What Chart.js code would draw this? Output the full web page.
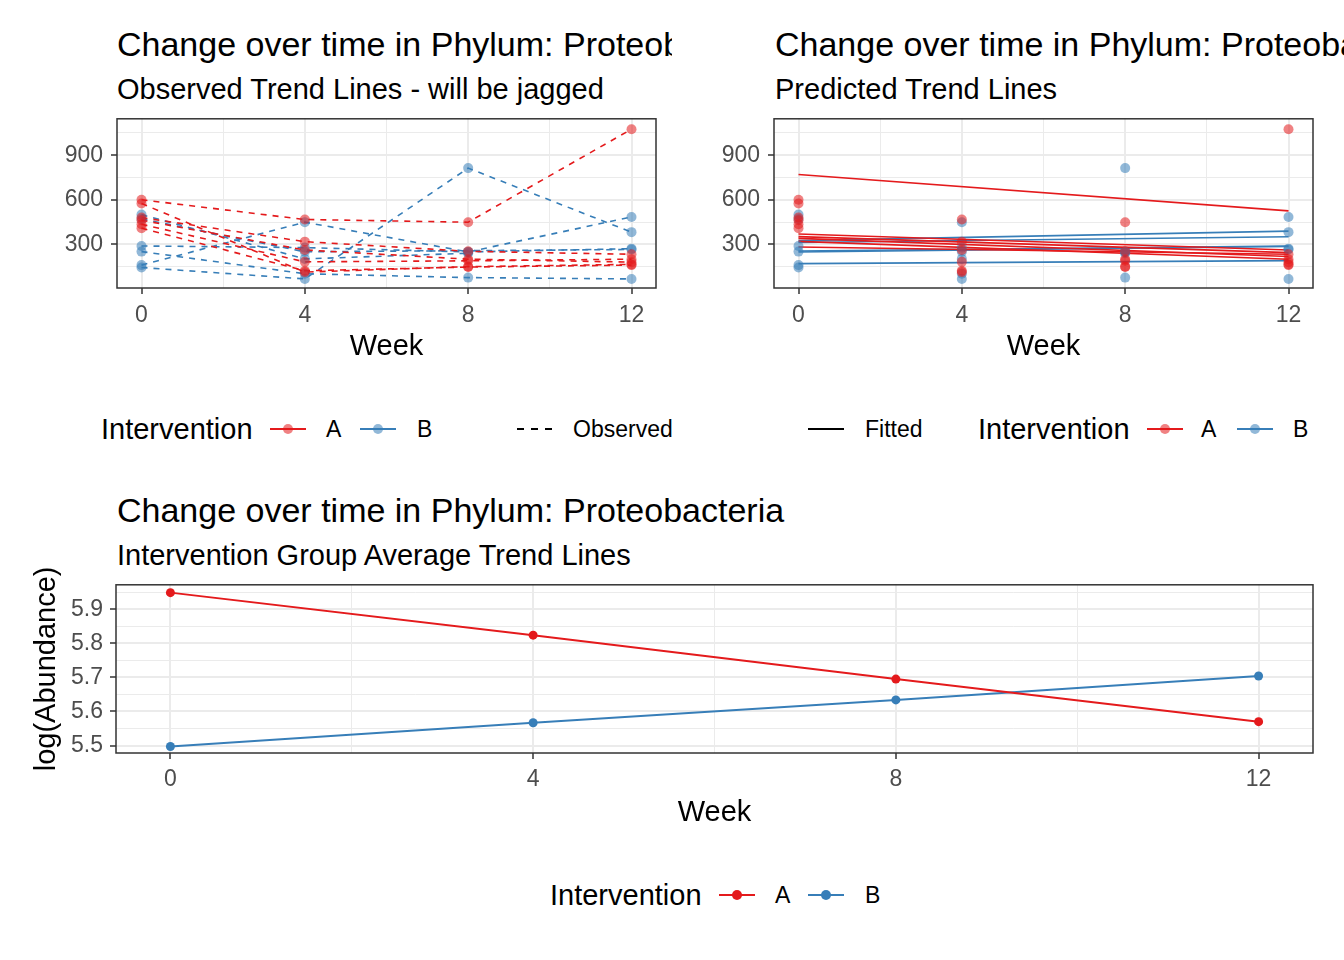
<!DOCTYPE html>
<html lang="en">
<head>
  <meta charset="UTF-8">
  <title>Change over time in Phylum: Proteobacteria</title>
  <script src="https://cdn.jsdelivr.net/npm/chart.js"></script>
  <style>
    body { margin: 0; background: #fff; font-family: "Liberation Sans", Arial, sans-serif; color: #000; }
    #page { position: relative; width: 1344px; height: 960px; overflow: hidden; }
    canvas { position: absolute; }
    .clip { position: absolute; overflow: hidden; white-space: nowrap; font-size: 34px; line-height: 40px; height: 40px; }
    .sub { position: absolute; white-space: nowrap; font-size: 29px; line-height: 34px; }
    .lt { position: absolute; white-space: nowrap; font-size: 29px; line-height: 34px; }
    .ll { position: absolute; white-space: nowrap; font-size: 23px; line-height: 28px; }
    .key { position: absolute; width: 36px; height: 20px; }
    .key .ln { position: absolute; left: 0; right: 0; top: 9px; border-top: 2px solid; }
    .key .dash { position: absolute; left: 0; right: 0; top: 9px; height: 2px;
                 background: repeating-linear-gradient(90deg, #000 0 7px, transparent 7px 14px); }
    .key .dot { position: absolute; left: 13px; top: 5px; width: 10px; height: 10px; border-radius: 50%; }
  </style>
</head>
<body>
<div id="page">
  <!-- titles -->
  <div class="clip" style="left:0; top:24px; width:672px; padding-left:117px; box-sizing:border-box;">Change over time in Phylum: Proteobacteria</div>
  <div class="sub" style="left:117px; top:72px;">Observed Trend Lines - will be jagged</div>
  <div class="clip" style="left:672px; top:24px; width:672px; padding-left:103px; box-sizing:border-box;">Change over time in Phylum: Proteobacteria</div>
  <div class="sub" style="left:775px; top:72px;">Predicted Trend Lines</div>
  <div class="clip" style="left:0; top:490px; width:1344px; padding-left:117px; box-sizing:border-box;">Change over time in Phylum: Proteobacteria</div>
  <div class="sub" style="left:117px; top:538px;">Intervention Group Average Trend Lines</div>

  <canvas id="obsChart" width="672" height="273" style="left:0; top:97px;"></canvas>
  <canvas id="fitChart" width="672" height="273" style="left:672px; top:97px;"></canvas>
  <canvas id="meanChart" width="1344" height="276" style="left:0; top:564px;"></canvas>

  <!-- legend: observed -->
  <div class="lt" style="left:101px; top:412px;">Intervention</div>
  <div class="key" style="left:270px; top:419px;"><div class="ln" style="border-color:#E41A1C"></div><div class="dot" style="background:rgba(228,26,28,0.55)"></div></div>
  <div class="ll" style="left:326px; top:415px;">A</div>
  <div class="key" style="left:360px; top:419px;"><div class="ln" style="border-color:#377EB8"></div><div class="dot" style="background:rgba(55,126,184,0.55)"></div></div>
  <div class="ll" style="left:417px; top:415px;">B</div>
  <div class="key" style="left:517px; top:419px;"><div class="dash"></div></div>
  <div class="ll" style="left:573px; top:415px;">Observed</div>

  <!-- legend: fitted -->
  <div class="key" style="left:808px; top:419px;"><div class="ln" style="border-color:#000"></div></div>
  <div class="ll" style="left:865px; top:415px;">Fitted</div>
  <div class="lt" style="left:978px; top:412px;">Intervention</div>
  <div class="key" style="left:1147px; top:419px;"><div class="ln" style="border-color:#E41A1C"></div><div class="dot" style="background:rgba(228,26,28,0.55)"></div></div>
  <div class="ll" style="left:1201px; top:415px;">A</div>
  <div class="key" style="left:1237px; top:419px;"><div class="ln" style="border-color:#377EB8"></div><div class="dot" style="background:rgba(55,126,184,0.55)"></div></div>
  <div class="ll" style="left:1293px; top:415px;">B</div>

  <!-- legend: group means -->
  <div class="lt" style="left:550px; top:878px;">Intervention</div>
  <div class="key" style="left:719px; top:885px;"><div class="ln" style="border-color:#E41A1C"></div><div class="dot" style="background:#E41A1C"></div></div>
  <div class="ll" style="left:775px; top:881px;">A</div>
  <div class="key" style="left:808px; top:885px;"><div class="ln" style="border-color:#377EB8"></div><div class="dot" style="background:#377EB8"></div></div>
  <div class="ll" style="left:865px; top:881px;">B</div>
</div>

<script>
  // weeks and tick positions
  const weeks = [0, 4, 8, 12];
  const fitWeeks = [0, 12];
  const xMajor = [0, 4, 8, 12];
  const xMinor = [2, 6, 10];
  const yMajorTop = [300, 600, 900];
  const yMinorTop = [150, 450, 750, 1050];
  const yMajorMean = [5.5, 5.6, 5.7, 5.8, 5.9];
  const yMinorMean = [5.55, 5.65, 5.75, 5.85, 5.95];

  // observed abundance per subject (weeks 0, 4, 8, 12), null = missing
  const obsA = [
    [600, 467, 449, 1075],
    [575, 113, 150, 165],
    [480, 318, 253, 233],
    [462, 262, 200, 180],
    [435, 182, 189, 200],
    [409, 122, 147, 160]
  ];
  const obsB = [
    [160, 449, 249, 484],
    [144, 67, 813, 382],
    [289, 278, 249, 271],
    [500, 202, 240, null],
    [471, 250, null, 265],
    [251, 102, 76, 67]
  ];

  // fitted values per subject at week 0 and week 12
  const fitA = [[770, 525], [370, 262], [352, 244], [340, 218], [320, 200], [282, 233]];
  const fitB = [[325, 389], [312, 351], [255, 289], [248, 285], [170, 190]];

  // group averages of log(Abundance)
  const meanA = [5.949, 5.824, 5.695, 5.570];
  const meanB = [5.497, 5.567, 5.634, 5.704];

  const RED = '#E41A1C', BLUE = '#377EB8';
  const RED_A = 'rgba(228,26,28,0.55)', BLUE_A = 'rgba(55,126,184,0.55)';

  Chart.defaults.font.family = '"Liberation Sans", Arial, sans-serif';
  Chart.defaults.animation = false;

  const panelBorder = {
    id: 'panelBorder',
    afterDraw(chart) {
      const { ctx, chartArea: a } = chart;
      ctx.save();
      ctx.strokeStyle = '#333333';
      ctx.lineWidth = 1.5;
      ctx.strokeRect(a.left, a.top, a.right - a.left, a.bottom - a.top);
      ctx.restore();
    }
  };

  function pts(xs, ys) {
    return xs.map((x, i) => ({ x: x, y: ys[i] })).filter(p => p.y !== null);
  }

  function axis(min, max, major, minor, fmt, fitSize, isX, pad) {
    const isMajor = v => major.some(m => Math.abs(m - v) < 1e-6);
    return {
      type: 'linear',
      min: min,
      max: max,
      afterBuildTicks: s => {
        s.ticks = major.concat(minor).sort((a, b) => a - b).map(v => ({ value: v }));
      },
      afterFit: s => {
        if (isX) s.height = fitSize; else s.width = fitSize;
      },
      ticks: {
        autoSkip: false,
        maxRotation: 0,
        color: '#4D4D4D',
        font: { size: 23 },
        padding: pad,
        callback: v => isMajor(v) ? fmt(v) : ''
      },
      grid: {
        color: '#EBEBEB',
        lineWidth: c => (c.tick && isMajor(c.tick.value)) ? 2 : 1,
        tickColor: c => (c.tick && isMajor(c.tick.value)) ? '#333333' : 'rgba(0,0,0,0)',
        tickLength: 6,
        tickWidth: 1.5
      },
      border: { display: false }
    };
  }

  function weekAxis(height, pad, tickPad) {
    const a = axis(-0.6, 12.6, xMajor, xMinor, v => String(v), height, true, tickPad);
    a.title = { display: true, text: 'Week', color: '#000', font: { size: 29 }, padding: { top: 0, bottom: pad } };
    return a;
  }

  function pointSet(rows, xs, fill) {
    return rows.map(r => ({
      type: 'scatter',
      data: pts(xs, r),
      showLine: false,
      pointRadius: 5,
      pointBackgroundColor: fill,
      pointBorderWidth: 0
    }));
  }

  function lineSet(rows, xs, color, dash) {
    return rows.map(r => ({
      type: 'line',
      data: pts(xs, r),
      borderColor: color,
      borderWidth: 1.6,
      borderDash: dash,
      pointRadius: 0,
      tension: 0
    }));
  }

  function baseOptions(padding, yAxis, xAxis) {
    return {
      responsive: false,
      layout: { padding: padding },
      scales: { x: xAxis, y: yAxis },
      plugins: { legend: { display: false }, tooltip: { enabled: false }, title: { display: false } }
    };
  }

  // observed trend lines
  const obsDatasets = []
    .concat(pointSet(obsA, weeks, RED_A), pointSet(obsB, weeks, BLUE_A))
    .concat(lineSet(obsA, weeks, RED, [6, 6]), lineSet(obsB, weeks, BLUE, [6, 6]));
  new Chart(document.getElementById('obsChart'), {
    type: 'line',
    data: { datasets: obsDatasets },
    options: baseOptions({ top: 0, right: 16, left: 0, bottom: 0 },
      axis(6, 1145, yMajorTop, yMinorTop, v => String(v), 117, false, 8),
      weekAxis(82, 6, 8)),
    plugins: [panelBorder]
  });

  // predicted trend lines
  const fitDatasets = []
    .concat(pointSet(obsA, weeks, RED_A), pointSet(obsB, weeks, BLUE_A))
    .concat(lineSet(fitA, fitWeeks, RED, []), lineSet(fitB, fitWeeks, BLUE, []));
  new Chart(document.getElementById('fitChart'), {
    type: 'line',
    data: { datasets: fitDatasets },
    options: baseOptions({ top: 0, right: 31, left: 0, bottom: 0 },
      axis(6, 1145, yMajorTop, yMinorTop, v => String(v), 102, false, 8),
      weekAxis(82, 6, 8)),
    plugins: [panelBorder]
  });

  // group average trend lines
  const meanY = axis(5.478, 5.972, yMajorMean, yMinorMean, v => v.toFixed(1), 116, false, 7);
  meanY.title = { display: true, text: 'log(Abundance)', color: '#000', font: { size: 29 }, padding: { top: 30, bottom: 0 } };
  new Chart(document.getElementById('meanChart'), {
    type: 'line',
    data: {
      datasets: [
        { data: pts(weeks, meanA), borderColor: RED, backgroundColor: RED, borderWidth: 2, pointRadius: 4.5, pointBorderWidth: 0, pointBackgroundColor: RED },
        { data: pts(weeks, meanB), borderColor: BLUE, backgroundColor: BLUE, borderWidth: 2, pointRadius: 4.5, pointBorderWidth: 0, pointBackgroundColor: BLUE }
      ]
    },
    options: baseOptions({ top: 0, right: 31, left: 0, bottom: 0 }, meanY, weekAxis(87, 10, 7)),
    plugins: [panelBorder]
  });
</script>
</body>
</html>
